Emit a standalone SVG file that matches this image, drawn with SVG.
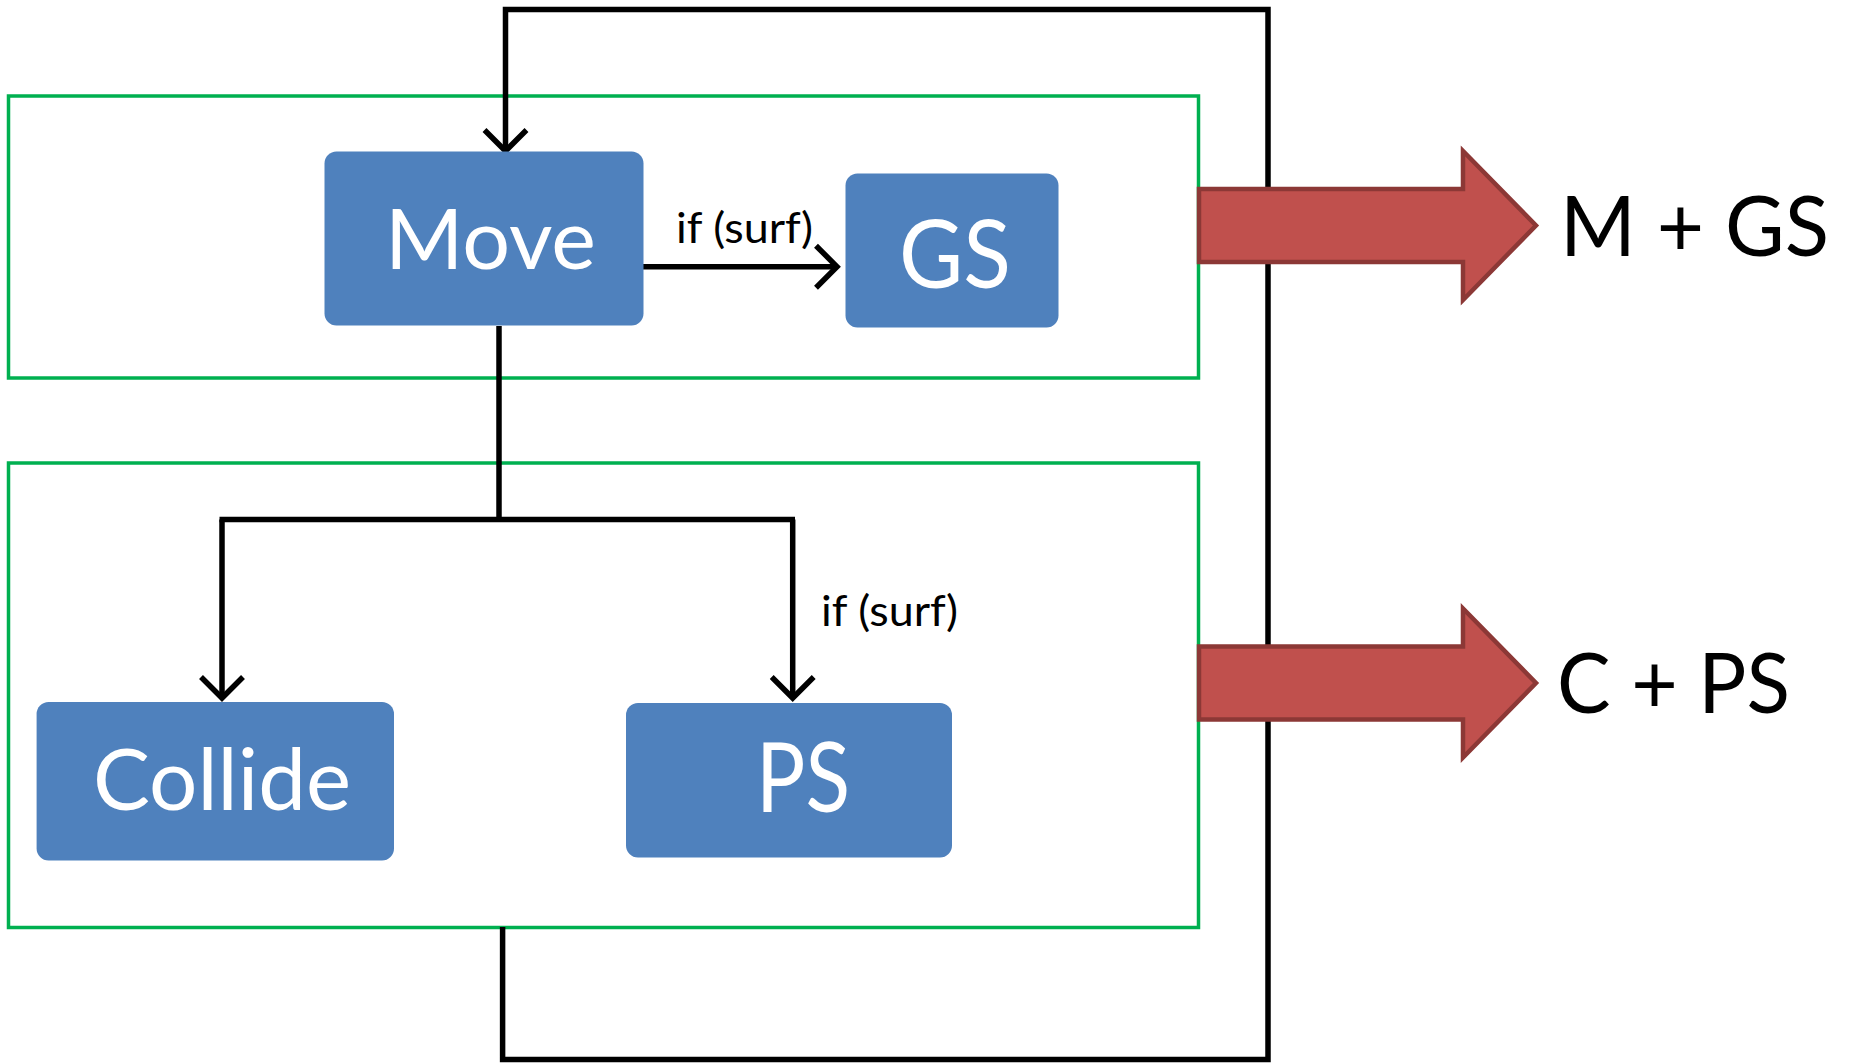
<svg xmlns="http://www.w3.org/2000/svg" width="1850" height="1063" viewBox="0 0 1850 1063">
<style>
.grp{fill:none;stroke:#00B050;stroke-width:3.5}
.node{fill:#4F81BD}
.con{fill:none;stroke:#000;stroke-width:5.5}
.out{fill:#C0504D;stroke:#8C3836;stroke-width:4.5}
.nt{font-family:Lato,"Open Sans",sans-serif;fill:#fff}
.lt{font-family:Lato,"Open Sans",sans-serif;fill:#000}
</style>
<defs>
<marker id="open" markerUnits="userSpaceOnUse" markerWidth="60" markerHeight="60" viewBox="-30 -30 60 60" refX="0" refY="0" orient="auto" overflow="visible">
<path d="M-21,-21 L0,0 L-21,21" fill="none" stroke="#000" stroke-width="5.5"/>
</marker>
</defs>
<rect width="1850" height="1063" fill="#fff"/>
<g id="group-top"><rect class="grp" x="8.5" y="96" width="1190" height="282"/></g>
<g id="group-bottom"><rect class="grp" x="8.5" y="463" width="1190" height="464.5"/></g>
<g id="connectors">
<path class="con" d="M502.6,927 L502.6,1059.5 L1268,1059.5 L1268,9.5 L505.5,9.5 L505.5,151" marker-end="url(#open)"/>
<path class="con" d="M499,326 L499,519.5"/>
<path class="con" d="M219.5,519.5 L795,519.5"/>
<path class="con" d="M222,519.5 L222,698" marker-end="url(#open)"/>
<path class="con" d="M792.7,519.5 L792.7,698" marker-end="url(#open)"/>
<path class="con" d="M643,266.7 L837,266.7" marker-end="url(#open)"/>
<text class="lt" x="676" y="243" font-size="42" textLength="137" lengthAdjust="spacingAndGlyphs">if (surf)</text>
<text class="lt" x="821" y="626" font-size="42" textLength="137" lengthAdjust="spacingAndGlyphs">if (surf)</text>
</g>
<g id="node-move">
<rect class="node" x="324.5" y="151.5" width="319" height="174" rx="12"/>
<text class="nt" x="385" y="268.5" font-size="84" textLength="211" lengthAdjust="spacingAndGlyphs">Move</text>
</g>
<g id="node-gs">
<rect class="node" x="845.5" y="173.5" width="213" height="154" rx="12"/>
<text class="nt" x="899" y="287.5" font-size="95" textLength="112" lengthAdjust="spacingAndGlyphs">GS</text>
</g>
<g id="node-collide">
<rect class="node" x="36.6" y="702" width="357.4" height="158.5" rx="12"/>
<text class="nt" x="93" y="810" font-size="86" textLength="258" lengthAdjust="spacingAndGlyphs">Collide</text>
</g>
<g id="node-ps">
<rect class="node" x="626" y="703" width="326" height="154.5" rx="12"/>
<text class="nt" x="756" y="812" font-size="96" textLength="94" lengthAdjust="spacingAndGlyphs">PS</text>
</g>
<g id="out-mgs">
<path class="out" d="M1199,189 L1463,189 L1463,151 L1536,225.5 L1463,300 L1463,262 L1199,262 Z"/>
<text class="lt" x="1560" y="256" font-size="84" textLength="269" lengthAdjust="spacingAndGlyphs">M + GS</text>
</g>
<g id="out-cps">
<path class="out" d="M1199,646.5 L1463,646.5 L1463,608.5 L1536,683 L1463,757.5 L1463,719.5 L1199,719.5 Z"/>
<text class="lt" x="1557" y="712.6" font-size="84" textLength="233" lengthAdjust="spacingAndGlyphs">C + PS</text>
</g>
</svg>
